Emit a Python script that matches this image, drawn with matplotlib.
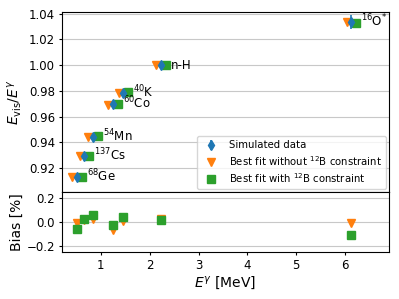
import matplotlib
matplotlib.use("Agg")
import matplotlib.pyplot as plt
import numpy as np

# Gamma sources
fontes = ["$^{68}$Ge", "$^{137}$Cs", "$^{54}$Mn", "$^{60}$Co", "$^{40}$K", "n-H", "$^{16}$O$^{*}$"]
energia = np.array([0.511, 0.662, 0.835, 1.253, 1.461, 2.223, 6.13])

# E_vis / E_gamma
simulado = np.array([0.9133, 0.9296, 0.9442, 0.9698, 0.9786, 1.0003, 1.0338])
erro_sim = np.array([0.0012, 0.0012, 0.0012, 0.0012, 0.0012, 0.0012, 0.0055])
fit_sem = np.array([0.9132, 0.9298, 0.9444, 0.9692, 0.9787, 1.0005, 1.0337])
fit_com = np.array([0.9128, 0.9298, 0.9448, 0.9696, 0.9790, 1.0004, 1.0327])

# Bias [%]
bias_sem = np.array([-0.008, 0.020, 0.022, -0.063, 0.005, 0.025, -0.008])
bias_com = np.array([-0.058, 0.025, 0.060, -0.022, 0.038, 0.013, -0.107])

DX = 0.1

fig = plt.figure(figsize=(3.99, 2.99), dpi=100)
gs = fig.add_gridspec(2, 1, height_ratios=[3, 1], hspace=0,
                      left=0.155, right=0.975, top=0.960, bottom=0.157)
ax1 = fig.add_subplot(gs[0])
ax2 = fig.add_subplot(gs[1], sharex=ax1)

# Painel superior
h_sim = ax1.errorbar(energia, simulado, yerr=erro_sim, fmt="d", color="C0",
                     markersize=5, elinewidth=1.2, label="Simulated data", zorder=3)
h_sem, = ax1.plot(energia - DX, fit_sem, "v", color="C1", markersize=6,
                  linestyle="none", label="Best fit without $^{12}$B constraint", zorder=2)
h_com, = ax1.plot(energia + DX, fit_com, "s", color="C2", markersize=6,
                  linestyle="none", label="Best fit with $^{12}$B constraint", zorder=2)

# nomes das fontes ao lado dos pontos
for nome, e, v in zip(fontes, energia, simulado):
    ax1.annotate(nome, xy=(e + 0.2, v), xytext=(0, -3.1),
                 textcoords="offset points", fontsize=8.5,
                 va="baseline", ha="left")

ax1.set_ylim(0.9015, 1.0413)
ax1.set_yticks([0.92, 0.94, 0.96, 0.98, 1.00, 1.02, 1.04])
ax1.set_ylabel(r"$E_\mathrm{vis}/E^\gamma$", fontsize=10, labelpad=2)
ax1.grid(True, axis="y", color="#c8c8c8")
ax1.tick_params(labelbottom=False, labelsize=8.5, length=2.5, pad=2.5)
ax1.legend([h_sim, h_sem, h_com],
           ["Simulated data", "Best fit without $^{12}$B constraint",
            "Best fit with $^{12}$B constraint"],
           loc="lower right", fontsize=7.3, labelspacing=0.35,
           borderaxespad=0.3)

# Painel inferior
ax2.plot(energia, bias_sem, "v", color="C1", markersize=6, linestyle="none")
ax2.plot(energia, bias_com, "s", color="C2", markersize=6, linestyle="none")
ax2.set_ylim(-0.25, 0.25)
ax2.set_yticks([-0.2, 0.0, 0.2])
ax2.set_ylabel("Bias [%]", fontsize=10, labelpad=2)
ax2.set_xlabel(r"$E^\gamma$ [MeV]", fontsize=10, labelpad=2)
ax2.grid(True, axis="y", color="#c8c8c8")
ax2.tick_params(labelsize=8.5, length=2.5, pad=2.5)

ax1.set_xlim(0.2, 6.9)
fig.align_ylabels([ax1, ax2])

fig.savefig("out.png", dpi=100)
